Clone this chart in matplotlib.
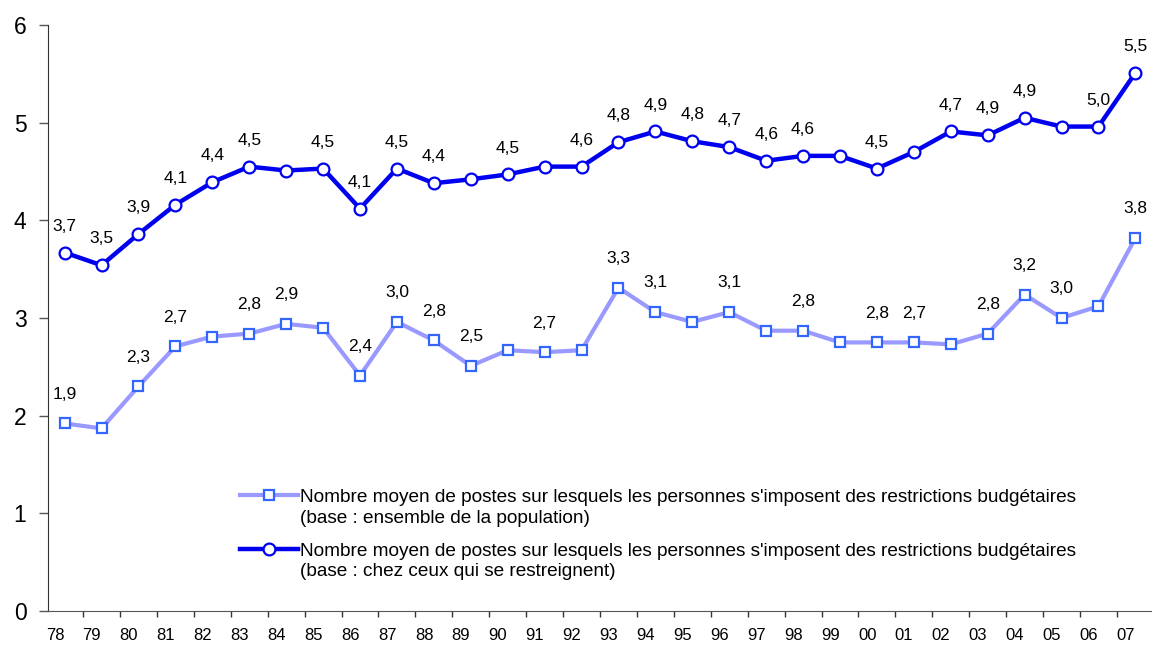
import matplotlib
matplotlib.use("Agg")
import matplotlib.pyplot as plt
import matplotlib.transforms as mtransforms
from matplotlib.legend_handler import HandlerLine2D

plt.rcParams['font.family'] = ['Liberation Sans', 'DejaVu Sans']

annees = ["78", "79", "80", "81", "82", "83", "84", "85", "86", "87",
          "88", "89", "90", "91", "92", "93", "94", "95", "96", "97",
          "98", "99", "00", "01", "02", "03", "04", "05", "06", "07"]

# base : ensemble de la population
ensemble = [1.92, 1.87, 2.30, 2.71, 2.81, 2.84, 2.94, 2.90, 2.41, 2.96,
            2.77, 2.51, 2.67, 2.65, 2.67, 3.31, 3.06, 2.96, 3.06, 2.87,
            2.87, 2.75, 2.75, 2.75, 2.73, 2.84, 3.24, 3.00, 3.12, 3.82]
etiq_ensemble = ["1,9", None, "2,3", "2,7", None, "2,8", "2,9", None, "2,4", "3,0",
                 "2,8", "2,5", None, "2,7", None, "3,3", "3,1", None, "3,1", None,
                 "2,8", None, "2,8", "2,7", None, "2,8", "3,2", "3,0", None, "3,8"]

# base : chez ceux qui se restreignent
restreignent = [3.67, 3.54, 3.86, 4.16, 4.39, 4.55, 4.51, 4.53, 4.12, 4.53,
                4.38, 4.42, 4.47, 4.55, 4.55, 4.80, 4.91, 4.81, 4.75, 4.61,
                4.66, 4.66, 4.53, 4.70, 4.91, 4.87, 5.05, 4.96, 4.96, 5.51]
etiq_restreignent = ["3,7", "3,5", "3,9", "4,1", "4,4", "4,5", None, "4,5", "4,1", "4,5",
                     "4,4", None, "4,5", None, "4,6", "4,8", "4,9", "4,8", "4,7", "4,6",
                     "4,6", None, "4,5", None, "4,7", "4,9", "4,9", None, "5,0", "5,5"]

lib1 = ("Nombre moyen de postes sur lesquels les personnes s'imposent des restrictions budgétaires\n"
        "(base : ensemble de la population)")
lib2 = ("Nombre moyen de postes sur lesquels les personnes s'imposent des restrictions budgétaires\n"
        "(base : chez ceux qui se restreignent)")


# poignee de legende alignee sur la premiere ligne du libelle
class PoigneeHaute(HandlerLine2D):
    def create_artists(self, legend, orig_handle, xdescent, ydescent,
                       width, height, fontsize, trans):
        return super().create_artists(legend, orig_handle, xdescent,
                                      ydescent - 1.3 * fontsize, width, height,
                                      fontsize, trans)


fig = plt.figure(figsize=(11.52, 6.48), dpi=100)
ax = fig.add_axes([48/1152, 37/648, 1 - 48/1152, (611-25)/648])

x = list(range(len(annees)))
l1, = ax.plot(x, ensemble, color="#9999FF", lw=3, marker="s", ms=7.5,
              mfc="white", mec="#3366FF", mew=1.6, label=lib1)
l2, = ax.plot(x, restreignent, color="#0000F0", lw=3.2, marker="o", ms=8.5,
              mfc="white", mec="#0000F0", mew=1.6, label=lib2)

for xi, v, t in zip(x, ensemble, etiq_ensemble):
    if t:
        ax.annotate(t, (xi, v), xytext=(0, 21), textcoords="offset points",
                    ha="center", va="center", fontsize=12.5)
for xi, v, t in zip(x, restreignent, etiq_restreignent):
    if t:
        ax.annotate(t, (xi, v), xytext=(0, 19), textcoords="offset points",
                    ha="center", va="center", fontsize=12.5)

ax.set_xlim(-0.45, 29.45)
ax.set_ylim(0, 6)
ax.spines["top"].set_visible(False)
ax.spines["right"].set_visible(False)
ax.spines["left"].set_color("#333333")
ax.spines["bottom"].set_color("#555555")

ax.set_yticks(range(0, 7))
ax.tick_params(axis="y", direction="out", length=6.5, width=1, labelsize=16.5,
               pad=9, color="#555555")

ax.set_xticks(x)
ax.set_xticklabels(annees, fontsize=12)
ax.set_xticks([i + 0.5 for i in x[:-1]], minor=True)
ax.tick_params(axis="x", which="major", length=0, pad=12.5)
ax.tick_params(axis="x", which="minor", direction="out", length=4.5, width=1,
               color="#333333")
decal = mtransforms.ScaledTranslation(-7/72, 0, fig.dpi_scale_trans)
for lab in ax.get_xticklabels():
    lab.set_transform(lab.get_transform() + decal)

leg = ax.legend(handler_map={l1: PoigneeHaute(), l2: PoigneeHaute()},
                loc="upper left", bbox_to_anchor=(240/1152, 1 - 489/648),
                bbox_transform=fig.transFigure, frameon=False, fontsize=13.7,
                handlelength=3.05, handletextpad=0.1, labelspacing=0.82,
                borderpad=0, borderaxespad=0)
for t in leg.get_texts():
    t.set_linespacing(1.3)

fig.savefig("out.png", dpi=100)
